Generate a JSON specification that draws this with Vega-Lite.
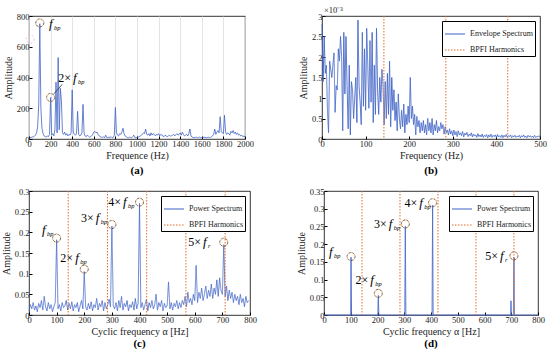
{
"$schema": "https://vega.github.io/schema/vega-lite/v6.json",
"background": "white",
"padding": {"left": 0, "top": 5, "right": 0, "bottom": 0},
"spacing": 10,
"config": {
 "font": "Liberation Serif",
 "view": {"stroke": "#000", "strokeWidth": 0.8},
 "axis": {"domain": false, "tickColor": "#000", "tickSize": -3, "labelFont": "Liberation Serif", "labelFontSize": 8.5, "labelColor": "#222", "labelOverlap": false, "labelFlush": false, "titleFont": "Liberation Serif", "titleFontSize": 10, "titleFontWeight": "normal", "titleColor": "#222", "grid": false, "labelPadding": 3, "titlePadding": 3},
 "title": {"font": "Liberation Serif", "fontSize": 11, "fontWeight": "bold", "orient": "bottom", "offset": 4, "color": "#000"},
 "legend": {"title": null, "orient": "top-right", "offset": 5, "strokeColor": "#000", "fillColor": "white", "padding": 2, "symbolType": "stroke", "symbolSize": 400, "symbolStrokeWidth": 1.2, "labelFont": "Liberation Serif", "labelFontSize": 8, "labelColor": "#222", "rowPadding": 1, "labelLimit": 200, "cornerRadius": 0}
},
"resolve": {"scale": {"color": "independent", "strokeDash": "independent"}, "legend": {"color": "independent", "strokeDash": "independent"}},
"vconcat": [
{"hconcat": [
 {"width": 216, "height": 123, "title": "(a)",
  "layer": [
   {"data": {"values": [
{"f":0,"a":5},{"f":10,"a":8},{"f":20,"a":10},{"f":30,"a":12},{"f":40,"a":15},{"f":50,"a":18},{"f":60,"a":25},{"f":70,"a":40},{"f":80,"a":80},{"f":90,"a":220},
{"f":100,"a":750},{"f":110,"a":200},{"f":120,"a":70},{"f":130,"a":35},{"f":140,"a":20},{"f":150,"a":15},{"f":160,"a":12},{"f":170,"a":20},{"f":180,"a":15},{"f":190,"a":30},
{"f":200,"a":270},{"f":210,"a":25},{"f":220,"a":35},{"f":230,"a":20},{"f":240,"a":60},{"f":250,"a":370},{"f":260,"a":40},{"f":270,"a":530},{"f":280,"a":60},{"f":290,"a":330},
{"f":300,"a":250},{"f":310,"a":40},{"f":320,"a":30},{"f":330,"a":45},{"f":340,"a":25},{"f":350,"a":35},{"f":360,"a":20},{"f":370,"a":30},{"f":380,"a":25},{"f":390,"a":40},
{"f":400,"a":320},{"f":410,"a":45},{"f":420,"a":30},{"f":430,"a":25},{"f":440,"a":35},{"f":450,"a":180},{"f":460,"a":30},{"f":470,"a":20},{"f":480,"a":25},{"f":490,"a":40},
{"f":500,"a":225},{"f":510,"a":35},{"f":520,"a":20},{"f":530,"a":15},{"f":540,"a":25},{"f":550,"a":18},{"f":560,"a":12},{"f":570,"a":15},{"f":580,"a":20},{"f":590,"a":30},
{"f":600,"a":45},{"f":610,"a":50},{"f":620,"a":40},{"f":630,"a":45},{"f":640,"a":30},{"f":650,"a":20},{"f":660,"a":15},{"f":670,"a":12},{"f":680,"a":10},{"f":690,"a":15},
{"f":700,"a":8},{"f":710,"a":25},{"f":720,"a":10},{"f":730,"a":8},{"f":740,"a":12},{"f":750,"a":10},{"f":760,"a":15},{"f":770,"a":8},{"f":780,"a":10},{"f":790,"a":25},
{"f":800,"a":205},{"f":810,"a":40},{"f":820,"a":25},{"f":830,"a":20},{"f":840,"a":35},{"f":850,"a":30},{"f":860,"a":45},{"f":870,"a":70},{"f":880,"a":35},{"f":890,"a":20},
{"f":900,"a":15},{"f":910,"a":10},{"f":920,"a":8},{"f":930,"a":12},{"f":940,"a":10},{"f":950,"a":8},{"f":960,"a":15},{"f":970,"a":25},{"f":980,"a":10},{"f":990,"a":8},
{"f":1000,"a":10},{"f":1010,"a":12},{"f":1020,"a":15},{"f":1030,"a":20},{"f":1040,"a":25},{"f":1050,"a":30},{"f":1060,"a":40},{"f":1070,"a":35},{"f":1080,"a":65},{"f":1090,"a":30},
{"f":1100,"a":25},{"f":1110,"a":35},{"f":1120,"a":20},{"f":1130,"a":40},{"f":1140,"a":25},{"f":1150,"a":35},{"f":1160,"a":30},{"f":1170,"a":20},{"f":1180,"a":30},{"f":1190,"a":25},
{"f":1200,"a":35},{"f":1210,"a":20},{"f":1220,"a":30},{"f":1230,"a":25},{"f":1240,"a":20},{"f":1250,"a":15},{"f":1260,"a":25},{"f":1270,"a":20},{"f":1280,"a":15},{"f":1290,"a":20},
{"f":1300,"a":25},{"f":1310,"a":18},{"f":1320,"a":22},{"f":1330,"a":25},{"f":1340,"a":30},{"f":1350,"a":20},{"f":1360,"a":28},{"f":1370,"a":35},{"f":1380,"a":25},{"f":1390,"a":30},
{"f":1400,"a":40},{"f":1410,"a":25},{"f":1420,"a":45},{"f":1430,"a":30},{"f":1440,"a":20},{"f":1450,"a":25},{"f":1460,"a":30},{"f":1470,"a":20},{"f":1480,"a":35},{"f":1490,"a":65},
{"f":1500,"a":20},{"f":1510,"a":12},{"f":1520,"a":10},{"f":1530,"a":8},{"f":1540,"a":10},{"f":1550,"a":12},{"f":1560,"a":8},{"f":1570,"a":10},{"f":1580,"a":12},{"f":1590,"a":8},
{"f":1600,"a":10},{"f":1610,"a":8},{"f":1620,"a":12},{"f":1630,"a":10},{"f":1640,"a":8},{"f":1650,"a":10},{"f":1660,"a":12},{"f":1670,"a":8},{"f":1680,"a":10},{"f":1690,"a":15},
{"f":1700,"a":20},{"f":1710,"a":30},{"f":1720,"a":65},{"f":1730,"a":30},{"f":1740,"a":45},{"f":1750,"a":55},{"f":1760,"a":40},{"f":1770,"a":145},{"f":1780,"a":50},{"f":1790,"a":40},
{"f":1800,"a":35},{"f":1810,"a":155},{"f":1820,"a":45},{"f":1830,"a":30},{"f":1840,"a":40},{"f":1850,"a":35},{"f":1860,"a":25},{"f":1870,"a":50},{"f":1880,"a":40},{"f":1890,"a":55},
{"f":1900,"a":35},{"f":1910,"a":45},{"f":1920,"a":30},{"f":1930,"a":40},{"f":1940,"a":25},{"f":1950,"a":30},{"f":1960,"a":20},{"f":1970,"a":25},{"f":1980,"a":15},{"f":1990,"a":20},{"f":2000,"a":10}
   ]},
    "mark": {"type": "line", "color": "#3f63c6", "strokeWidth": 0.8},
    "encoding": {
     "x": {"field": "f", "type": "quantitative", "scale": {"domain": [0, 2000], "nice": false}, "axis": {"title": "Frequence (Hz)", "values": [0,200,400,600,800,1000,1200,1400,1600,1800,2000], "tickCount": 30, "format": "d", "labelOverlap": false, "grid": true, "gridColor": "#dddddd", "gridWidth": 0.8}},
     "y": {"field": "a", "type": "quantitative", "scale": {"domain": [0, 800], "nice": false}, "axis": {"title": "Amplitude", "values": [0,200,400,600,800], "tickCount": 30, "format": "d", "labelOverlap": false}}
    }},
   {"data": {"values": [{"x1": 231, "y1": 294, "x2": 308, "y2": 355}]},
    "mark": {"type": "rule", "color": "#333", "strokeWidth": 0.8},
    "encoding": {"x": {"field": "x1", "type": "quantitative"}, "y": {"field": "y1", "type": "quantitative"}, "x2": {"field": "x2"}, "y2": {"field": "y2"}}},
   {"data": {"values": [{"x": 12, "y": 650}]},
    "mark": {"type": "point", "shape": "circle", "size": 64, "filled": false, "stroke": "#f2a6e6", "strokeWidth": 1, "strokeDash": [2, 2]},
    "encoding": {"x": {"field": "x", "type": "quantitative"}, "y": {"field": "y", "type": "quantitative"}}},
   {"data": {"values": [
     {"x": 100, "y": 755, "tx": 185, "ty": 750, "pre": "", "sub": "bp"},
     {"x": 200, "y": 270, "tx": 407, "ty": 395, "pre": "2×", "sub": "bp"}]},
    "layer": [
     {"mark": {"type": "point", "shape": "circle", "size": 64, "filled": false, "stroke": "#222", "strokeWidth": 1, "strokeDash": [2, 2]},
      "encoding": {"x": {"field": "x", "type": "quantitative"}, "y": {"field": "y", "type": "quantitative"}}},
     {"mark": {"type": "point", "shape": "circle", "size": 64, "filled": false, "stroke": "#e8821e", "strokeWidth": 1, "strokeDash": [2, 2], "strokeDashOffset": 2},
      "encoding": {"x": {"field": "x", "type": "quantitative"}, "y": {"field": "y", "type": "quantitative"}}},
     {"mark": {"type": "text", "align": "right", "baseline": "middle", "dx": -2, "fontSize": 12, "font": "Liberation Serif", "color": "#000"},
      "encoding": {"x": {"field": "tx", "type": "quantitative"}, "y": {"field": "ty", "type": "quantitative"}, "text": {"field": "pre"}}},
     {"mark": {"type": "text", "align": "left", "baseline": "middle", "fontSize": 13, "fontStyle": "italic", "font": "Liberation Serif", "color": "#000"},
      "encoding": {"x": {"field": "tx", "type": "quantitative"}, "y": {"field": "ty", "type": "quantitative"}, "text": {"value": "f"}}},
     {"mark": {"type": "text", "align": "left", "baseline": "middle", "dx": 5, "dy": 4, "fontSize": 6.5, "fontStyle": "italic", "font": "Liberation Serif", "color": "#000"},
      "encoding": {"x": {"field": "tx", "type": "quantitative"}, "y": {"field": "ty", "type": "quantitative"}, "text": {"field": "sub"}}}
    ]}
  ]},
 {"width": 218, "height": 123, "title": "(b)",
  "layer": [
   {"data": {"values": [
{"f":0,"a":2.8},{"f":2.5,"a":1.4},{"f":5,"a":2.5},{"f":7.5,"a":1.6},{"f":10,"a":1.8},{"f":12.5,"a":0.7},{"f":15,"a":0.15},{"f":17.5,"a":1.9},{"f":20,"a":1.7},{"f":22.5,"a":1.5},
{"f":25,"a":1.8},{"f":27.5,"a":2.1},{"f":30,"a":0.65},{"f":32.5,"a":1.3},{"f":35,"a":1.2},{"f":37.5,"a":2.2},{"f":40,"a":1.9},{"f":42.5,"a":2.5},{"f":45,"a":2.0},{"f":47.5,"a":0.2},
{"f":50,"a":2.6},{"f":52.5,"a":1.1},{"f":55,"a":2.5},{"f":57.5,"a":1.3},{"f":60,"a":0.25},{"f":62.5,"a":1.8},{"f":65,"a":0.1},{"f":67.5,"a":1.4},{"f":70,"a":1.2},{"f":72.5,"a":0.5},
{"f":75,"a":1.0},{"f":77.5,"a":1.5},{"f":80,"a":0.4},{"f":82.5,"a":2.9},{"f":85,"a":1.3},{"f":87.5,"a":0.9},{"f":90,"a":0.35},{"f":92.5,"a":2.6},{"f":95,"a":0.8},{"f":97.5,"a":2.2},
{"f":100,"a":0.7},{"f":102.5,"a":2.7},{"f":105,"a":1.8},{"f":107.5,"a":0.75},{"f":110,"a":2.4},{"f":112.5,"a":0.9},{"f":115,"a":2.6},{"f":117.5,"a":0.4},{"f":120,"a":1.8},{"f":122.5,"a":0.6},
{"f":125,"a":2.7},{"f":127.5,"a":1.2},{"f":130,"a":0.6},{"f":132.5,"a":1.5},{"f":135,"a":0.9},{"f":137.5,"a":1.7},{"f":140,"a":1.3},{"f":142.5,"a":0.35},{"f":145,"a":1.4},{"f":147.5,"a":0.5},
{"f":150,"a":1.6},{"f":152.5,"a":0.6},{"f":155,"a":1.9},{"f":157.5,"a":0.3},{"f":160,"a":1.5},{"f":162.5,"a":0.7},{"f":165,"a":1.2},{"f":167.5,"a":0.45},{"f":170,"a":0.9},{"f":172.5,"a":0.2},
{"f":175,"a":1.1},{"f":177.5,"a":0.5},{"f":180,"a":0.25},{"f":182.5,"a":0.7},{"f":185,"a":0.3},{"f":187.5,"a":0.85},{"f":190,"a":0.15},{"f":192.5,"a":0.6},{"f":195,"a":0.35},{"f":197.5,"a":0.8},
{"f":200,"a":0.4},{"f":202.5,"a":1.5},{"f":205,"a":0.5},{"f":207.5,"a":0.8},{"f":210,"a":0.35},{"f":212.5,"a":0.6},{"f":215,"a":0.1},{"f":217.5,"a":0.55},{"f":220,"a":0.3},{"f":222.5,"a":0.45},
{"f":225,"a":0.15},{"f":227.5,"a":0.4},{"f":230,"a":0.2},{"f":232.5,"a":0.45},{"f":235,"a":0.15},{"f":237.5,"a":0.35},{"f":240,"a":0.1},{"f":242.5,"a":0.5},{"f":245,"a":0.2},{"f":247.5,"a":0.4},
{"f":250,"a":0.15},{"f":252.5,"a":0.5},{"f":255,"a":0.1},{"f":257.5,"a":0.35},{"f":260,"a":0.2},{"f":262.5,"a":0.45},{"f":265,"a":0.15},{"f":267.5,"a":0.3},{"f":270,"a":0.2},{"f":272.5,"a":0.4},
{"f":275,"a":0.25},{"f":277.5,"a":0.35},{"f":280,"a":0.12},{"f":282.5,"a":0.3},{"f":285,"a":0.15},{"f":287.5,"a":0.22},{"f":290,"a":0.1},{"f":292.5,"a":0.25},{"f":295,"a":0.12},{"f":297.5,"a":0.2},
{"f":300,"a":0.08},{"f":302.5,"a":0.22},{"f":305,"a":0.1},{"f":307.5,"a":0.18},{"f":310,"a":0.06},{"f":312.5,"a":0.2},{"f":315,"a":0.1},{"f":317.5,"a":0.15},{"f":320,"a":0.08},{"f":322.5,"a":0.18},
{"f":325,"a":0.05},{"f":327.5,"a":0.14},{"f":330,"a":0.1},{"f":332.5,"a":0.16},{"f":335,"a":0.06},{"f":337.5,"a":0.12},{"f":340,"a":0.08},{"f":342.5,"a":0.15},{"f":345,"a":0.05},{"f":347.5,"a":0.12},
{"f":350,"a":0.07},{"f":352.5,"a":0.1},{"f":355,"a":0.04},{"f":357.5,"a":0.13},{"f":360,"a":0.06},{"f":362.5,"a":0.1},{"f":365,"a":0.05},{"f":367.5,"a":0.12},{"f":370,"a":0.04},{"f":372.5,"a":0.09},
{"f":375,"a":0.06},{"f":377.5,"a":0.11},{"f":380,"a":0.03},{"f":382.5,"a":0.1},{"f":385,"a":0.05},{"f":387.5,"a":0.12},{"f":390,"a":0.04},{"f":392.5,"a":0.09},{"f":395,"a":0.06},{"f":397.5,"a":0.1},
{"f":400,"a":0.03},{"f":402.5,"a":0.11},{"f":405,"a":0.05},{"f":407.5,"a":0.08},{"f":410,"a":0.04},{"f":412.5,"a":0.1},{"f":415,"a":0.03},{"f":417.5,"a":0.09},{"f":420,"a":0.05},{"f":422.5,"a":0.11},
{"f":425,"a":0.04},{"f":427.5,"a":0.08},{"f":430,"a":0.06},{"f":432.5,"a":0.1},{"f":435,"a":0.03},{"f":437.5,"a":0.08},{"f":440,"a":0.05},{"f":442.5,"a":0.09},{"f":445,"a":0.04},{"f":447.5,"a":0.07},
{"f":450,"a":0.05},{"f":452.5,"a":0.09},{"f":455,"a":0.03},{"f":457.5,"a":0.08},{"f":460,"a":0.05},{"f":462.5,"a":0.1},{"f":465,"a":0.04},{"f":467.5,"a":0.07},{"f":470,"a":0.03},{"f":472.5,"a":0.09},
{"f":475,"a":0.05},{"f":477.5,"a":0.08},{"f":480,"a":0.04},{"f":482.5,"a":0.07},{"f":485,"a":0.03},{"f":487.5,"a":0.09},{"f":490,"a":0.04},{"f":492.5,"a":0.06},{"f":495,"a":0.05},{"f":497.5,"a":0.08},{"f":500,"a":0.04}
   ]},
    "mark": {"type": "line", "strokeWidth": 0.9},
    "encoding": {
     "x": {"field": "f", "type": "quantitative", "scale": {"domain": [0, 500], "nice": false}, "axis": {"title": "Frequency (Hz)", "values": [0,100,200,300,400,500], "tickCount": 30, "labelOverlap": false}},
     "y": {"field": "a", "type": "quantitative", "scale": {"domain": [0, 3], "nice": false}, "axis": {"title": "Amplitude", "values": [0,0.5,1,1.5,2,2.5,3], "tickCount": 30, "format": ".1~f", "labelOverlap": false}},
     "color": {"datum": "Envelope Spectrum", "type": "nominal", "scale": {"domain": ["Envelope Spectrum", "BPFI Harmonics"], "range": ["#3f63c6", "#e06c2a"]}},
     "strokeDash": {"datum": "Envelope Spectrum", "type": "nominal", "scale": {"domain": ["Envelope Spectrum", "BPFI Harmonics"], "range": [[1, 0], [1.5, 1.5]]}}
    }},
   {"data": {"values": [{"f": 142}, {"f": 284}, {"f": 426}]},
    "mark": {"type": "rule", "strokeWidth": 1},
    "encoding": {"x": {"field": "f", "type": "quantitative"},
     "color": {"datum": "BPFI Harmonics", "type": "nominal"},
     "strokeDash": {"datum": "BPFI Harmonics", "type": "nominal"}}},
   {"data": {"values": [{"f": 0, "a": 3, "t": "×10⁻³"}]},
    "mark": {"type": "text", "align": "left", "baseline": "middle", "dx": 2, "dy": -6, "fontSize": 8.5, "font": "Liberation Serif", "color": "#222"},
    "encoding": {"x": {"field": "f", "type": "quantitative"}, "y": {"field": "a", "type": "quantitative"}, "text": {"field": "t"}}}
  ]}
], "spacing": 43, "resolve": {"scale": {"color": "independent", "strokeDash": "independent"}, "legend": {"color": "independent", "strokeDash": "independent"}}},
{"hconcat": [
 {"width": 221, "height": 124, "title": {"text": "(c)", "offset": 1},
  "layer": [
   {"data": {"values": [
{"f":0,"a":0.010},{"f":5,"a":0.025},{"f":10,"a":0.015},{"f":15,"a":0.030},{"f":20,"a":0.012},{"f":25,"a":0.022},{"f":30,"a":0.008},{"f":35,"a":0.028},{"f":40,"a":0.018},{"f":45,"a":0.035},
{"f":50,"a":0.012},{"f":55,"a":0.045},{"f":60,"a":0.020},{"f":65,"a":0.010},{"f":70,"a":0.030},{"f":75,"a":0.015},{"f":80,"a":0.025},{"f":85,"a":0.008},{"f":90,"a":0.020},{"f":95,"a":0.030},
{"f":100,"a":0.182},{"f":105,"a":0.015},{"f":110,"a":0.025},{"f":115,"a":0.010},{"f":120,"a":0.030},{"f":125,"a":0.018},{"f":130,"a":0.022},{"f":135,"a":0.035},{"f":140,"a":0.012},{"f":145,"a":0.028},
{"f":150,"a":0.015},{"f":155,"a":0.032},{"f":160,"a":0.010},{"f":165,"a":0.025},{"f":170,"a":0.018},{"f":175,"a":0.030},{"f":180,"a":0.008},{"f":185,"a":0.022},{"f":190,"a":0.035},{"f":195,"a":0.015},
{"f":200,"a":0.105},{"f":205,"a":0.020},{"f":210,"a":0.012},{"f":215,"a":0.028},{"f":220,"a":0.015},{"f":225,"a":0.032},{"f":230,"a":0.010},{"f":235,"a":0.025},{"f":240,"a":0.018},{"f":245,"a":0.040},
{"f":250,"a":0.012},{"f":255,"a":0.028},{"f":260,"a":0.020},{"f":265,"a":0.035},{"f":270,"a":0.010},{"f":275,"a":0.030},{"f":280,"a":0.015},{"f":285,"a":0.025},{"f":290,"a":0.038},{"f":295,"a":0.020},
{"f":300,"a":0.215},{"f":305,"a":0.022},{"f":310,"a":0.015},{"f":315,"a":0.030},{"f":320,"a":0.010},{"f":325,"a":0.035},{"f":330,"a":0.018},{"f":335,"a":0.045},{"f":340,"a":0.012},{"f":345,"a":0.028},
{"f":350,"a":0.020},{"f":355,"a":0.035},{"f":360,"a":0.010},{"f":365,"a":0.025},{"f":370,"a":0.018},{"f":375,"a":0.032},{"f":380,"a":0.012},{"f":385,"a":0.040},{"f":390,"a":0.015},{"f":395,"a":0.028},
{"f":400,"a":0.270},{"f":405,"a":0.018},{"f":410,"a":0.030},{"f":415,"a":0.012},{"f":420,"a":0.025},{"f":425,"a":0.038},{"f":430,"a":0.010},{"f":435,"a":0.030},{"f":440,"a":0.018},{"f":445,"a":0.035},
{"f":450,"a":0.015},{"f":455,"a":0.025},{"f":460,"a":0.050},{"f":465,"a":0.012},{"f":470,"a":0.030},{"f":475,"a":0.020},{"f":480,"a":0.035},{"f":485,"a":0.010},{"f":490,"a":0.028},{"f":495,"a":0.018},
{"f":500,"a":0.022},{"f":505,"a":0.080},{"f":510,"a":0.015},{"f":515,"a":0.030},{"f":520,"a":0.012},{"f":525,"a":0.028},{"f":530,"a":0.020},{"f":535,"a":0.035},{"f":540,"a":0.015},{"f":545,"a":0.030},
{"f":550,"a":0.018},{"f":555,"a":0.035},{"f":560,"a":0.025},{"f":565,"a":0.045},{"f":570,"a":0.020},{"f":575,"a":0.055},{"f":580,"a":0.030},{"f":585,"a":0.040},{"f":590,"a":0.025},{"f":595,"a":0.050},
{"f":600,"a":0.035},{"f":605,"a":0.120},{"f":610,"a":0.030},{"f":615,"a":0.055},{"f":620,"a":0.040},{"f":625,"a":0.065},{"f":630,"a":0.035},{"f":635,"a":0.050},{"f":640,"a":0.070},{"f":645,"a":0.040},
{"f":650,"a":0.060},{"f":655,"a":0.045},{"f":660,"a":0.075},{"f":665,"a":0.040},{"f":670,"a":0.065},{"f":675,"a":0.050},{"f":680,"a":0.085},{"f":685,"a":0.045},{"f":690,"a":0.090},{"f":695,"a":0.060},
{"f":700,"a":0.050},{"f":705,"a":0.170},{"f":710,"a":0.045},{"f":715,"a":0.070},{"f":720,"a":0.035},{"f":725,"a":0.060},{"f":730,"a":0.040},{"f":735,"a":0.055},{"f":740,"a":0.030},{"f":745,"a":0.050},
{"f":750,"a":0.035},{"f":755,"a":0.045},{"f":760,"a":0.025},{"f":765,"a":0.050},{"f":770,"a":0.030},{"f":775,"a":0.040},{"f":780,"a":0.020},{"f":785,"a":0.045},{"f":790,"a":0.030},{"f":795,"a":0.035}
   ]},
    "mark": {"type": "line", "strokeWidth": 0.8},
    "encoding": {
     "x": {"field": "f", "type": "quantitative", "scale": {"domain": [0, 800], "nice": false}, "axis": {"title": "Cyclic frequency α [Hz]", "values": [0,100,200,300,400,500,600,700,800], "tickCount": 30, "labelOverlap": false}},
     "y": {"field": "a", "type": "quantitative", "scale": {"domain": [0, 0.3], "nice": false}, "axis": {"title": "Amplitude", "values": [0,0.05,0.1,0.15,0.2,0.25,0.3], "tickCount": 30, "format": ".2~f", "labelOverlap": false}},
     "color": {"datum": "Power Spectrum", "type": "nominal", "scale": {"domain": ["Power Spectrum", "BPFI Harmonics"], "range": ["#3f63c6", "#e06c2a"]}},
     "strokeDash": {"datum": "Power Spectrum", "type": "nominal", "scale": {"domain": ["Power Spectrum", "BPFI Harmonics"], "range": [[1, 0], [1.5, 1.5]]}}
    }},
   {"data": {"values": [{"f": 142}, {"f": 284}, {"f": 426}, {"f": 568}, {"f": 710}]},
    "mark": {"type": "rule", "strokeWidth": 1},
    "encoding": {"x": {"field": "f", "type": "quantitative"},
     "color": {"datum": "BPFI Harmonics", "type": "nominal"},
     "strokeDash": {"datum": "BPFI Harmonics", "type": "nominal"}}},
   {"data": {"values": [
     {"x": 100, "y": 0.186, "tx": 47, "ty": 0.206, "pre": "", "sub": "bp"},
     {"x": 200, "y": 0.111, "tx": 167, "ty": 0.138, "pre": "2×", "sub": "bp"},
     {"x": 300, "y": 0.219, "tx": 242, "ty": 0.235, "pre": "3×", "sub": "bp"},
     {"x": 400, "y": 0.273, "tx": 340, "ty": 0.273, "pre": "4×", "sub": "bp"},
     {"x": 705, "y": 0.176, "tx": 630, "ty": 0.177, "pre": "5×", "sub": "r"}]},
    "layer": [
     {"mark": {"type": "point", "shape": "circle", "size": 64, "filled": false, "stroke": "#222", "strokeWidth": 1, "strokeDash": [2, 2]},
      "encoding": {"x": {"field": "x", "type": "quantitative"}, "y": {"field": "y", "type": "quantitative"}}},
     {"mark": {"type": "point", "shape": "circle", "size": 64, "filled": false, "stroke": "#e8821e", "strokeWidth": 1, "strokeDash": [2, 2], "strokeDashOffset": 2},
      "encoding": {"x": {"field": "x", "type": "quantitative"}, "y": {"field": "y", "type": "quantitative"}}},
     {"mark": {"type": "text", "align": "right", "baseline": "middle", "dx": -2, "fontSize": 12, "font": "Liberation Serif", "color": "#000"},
      "encoding": {"x": {"field": "tx", "type": "quantitative"}, "y": {"field": "ty", "type": "quantitative"}, "text": {"field": "pre"}}},
     {"mark": {"type": "text", "align": "left", "baseline": "middle", "fontSize": 13, "fontStyle": "italic", "font": "Liberation Serif", "color": "#000"},
      "encoding": {"x": {"field": "tx", "type": "quantitative"}, "y": {"field": "ty", "type": "quantitative"}, "text": {"value": "f"}}},
     {"mark": {"type": "text", "align": "left", "baseline": "middle", "dx": 5, "dy": 4, "fontSize": 6.5, "fontStyle": "italic", "font": "Liberation Serif", "color": "#000"},
      "encoding": {"x": {"field": "tx", "type": "quantitative"}, "y": {"field": "ty", "type": "quantitative"}, "text": {"field": "sub"}}}
    ]}
  ]},
 {"width": 214, "height": 124, "title": {"text": "(d)", "offset": 1},
  "layer": [
   {"data": {"values": [
{"f":0,"a":0},{"f":99,"a":0},{"f":101,"a":0.163},{"f":103,"a":0},{"f":201,"a":0},{"f":203,"a":0.055},{"f":205,"a":0},
{"f":302,"a":0},{"f":304,"a":0.25},{"f":306,"a":0},{"f":404,"a":0},{"f":406,"a":0.31},{"f":408,"a":0},
{"f":697,"a":0},{"f":699,"a":0.04},{"f":701,"a":0},{"f":708,"a":0},{"f":710,"a":0.163},{"f":712,"a":0},{"f":800,"a":0}
   ]},
    "mark": {"type": "line", "strokeWidth": 0.9},
    "encoding": {
     "x": {"field": "f", "type": "quantitative", "scale": {"domain": [0, 800], "nice": false}, "axis": {"title": "Cyclic frequency α [Hz]", "values": [0,100,200,300,400,500,600,700,800], "tickCount": 30, "labelOverlap": false}},
     "y": {"field": "a", "type": "quantitative", "scale": {"domain": [0, 0.35], "nice": false}, "axis": {"title": "Amplitude", "values": [0,0.05,0.1,0.15,0.2,0.25,0.3,0.35], "tickCount": 30, "format": ".2~f", "labelOverlap": false}},
     "color": {"datum": "Power Spectrum", "type": "nominal", "scale": {"domain": ["Power Spectrum", "BPFI Harmonics"], "range": ["#3f63c6", "#e06c2a"]}},
     "strokeDash": {"datum": "Power Spectrum", "type": "nominal", "scale": {"domain": ["Power Spectrum", "BPFI Harmonics"], "range": [[1, 0], [1.5, 1.5]]}}
    }},
   {"data": {"values": [{"f": 142}, {"f": 284}, {"f": 426}, {"f": 568}, {"f": 710}]},
    "mark": {"type": "rule", "strokeWidth": 1},
    "encoding": {"x": {"field": "f", "type": "quantitative"},
     "color": {"datum": "BPFI Harmonics", "type": "nominal"},
     "strokeDash": {"datum": "BPFI Harmonics", "type": "nominal"}}},
   {"data": {"values": [
     {"x": 101, "y": 0.165, "tx": 19, "ty": 0.179, "pre": "", "sub": "bp"},
     {"x": 203, "y": 0.061, "tx": 173, "ty": 0.099, "pre": "2×", "sub": "bp"},
     {"x": 304, "y": 0.257, "tx": 242, "ty": 0.257, "pre": "3×", "sub": "bp"},
     {"x": 406, "y": 0.317, "tx": 356, "ty": 0.317, "pre": "4×", "sub": "bp"},
     {"x": 710, "y": 0.167, "tx": 658, "ty": 0.167, "pre": "5×", "sub": "r"}]},
    "layer": [
     {"mark": {"type": "point", "shape": "circle", "size": 64, "filled": false, "stroke": "#222", "strokeWidth": 1, "strokeDash": [2, 2]},
      "encoding": {"x": {"field": "x", "type": "quantitative"}, "y": {"field": "y", "type": "quantitative"}}},
     {"mark": {"type": "point", "shape": "circle", "size": 64, "filled": false, "stroke": "#e8821e", "strokeWidth": 1, "strokeDash": [2, 2], "strokeDashOffset": 2},
      "encoding": {"x": {"field": "x", "type": "quantitative"}, "y": {"field": "y", "type": "quantitative"}}},
     {"mark": {"type": "text", "align": "right", "baseline": "middle", "dx": -2, "fontSize": 12, "font": "Liberation Serif", "color": "#000"},
      "encoding": {"x": {"field": "tx", "type": "quantitative"}, "y": {"field": "ty", "type": "quantitative"}, "text": {"field": "pre"}}},
     {"mark": {"type": "text", "align": "left", "baseline": "middle", "fontSize": 13, "fontStyle": "italic", "font": "Liberation Serif", "color": "#000"},
      "encoding": {"x": {"field": "tx", "type": "quantitative"}, "y": {"field": "ty", "type": "quantitative"}, "text": {"value": "f"}}},
     {"mark": {"type": "text", "align": "left", "baseline": "middle", "dx": 5, "dy": 4, "fontSize": 6.5, "fontStyle": "italic", "font": "Liberation Serif", "color": "#000"},
      "encoding": {"x": {"field": "tx", "type": "quantitative"}, "y": {"field": "ty", "type": "quantitative"}, "text": {"field": "sub"}}}
    ]}
  ]}
], "spacing": 38, "resolve": {"scale": {"color": "independent", "strokeDash": "independent"}, "legend": {"color": "independent", "strokeDash": "independent"}}}
]
}
